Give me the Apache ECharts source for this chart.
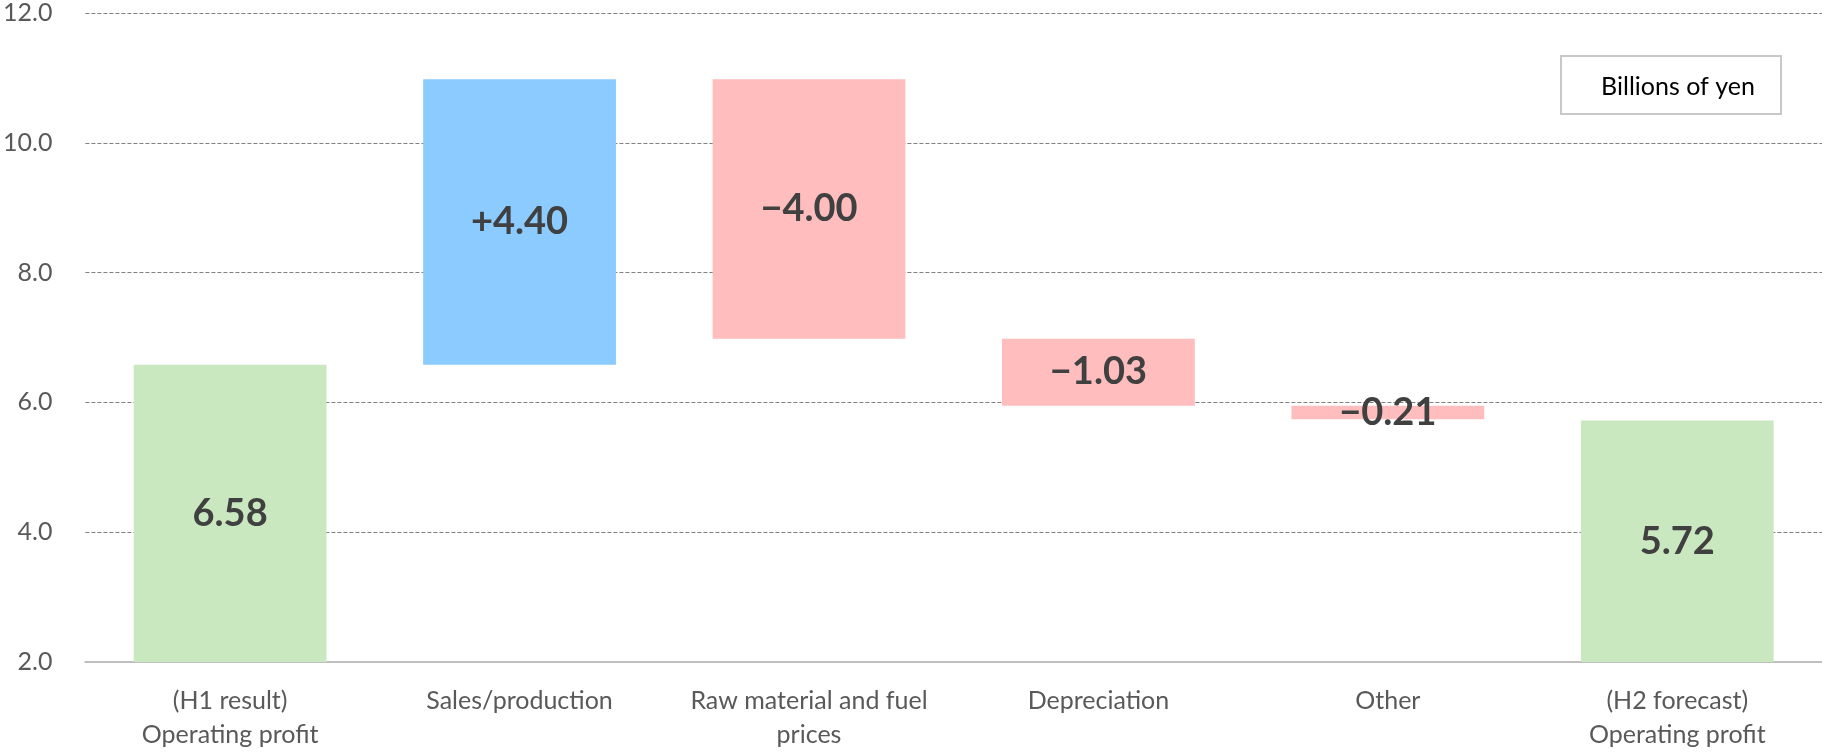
<!DOCTYPE html>
<html>
<head>
<meta charset="utf-8">
<script src="https://cdn.jsdelivr.net/npm/echarts@6/dist/echarts.min.js"></script>
<style>
  html, body { margin: 0; padding: 0; background: #ffffff; }
  #chart { width: 1822px; height: 752px; }
</style>
</head>
<body>
<div id="chart"></div>
<script>
// Operating profit bridge: H1 result -> H2 forecast (billions of yen)
const categories = [
  '(H1 result)\nOperating profit',
  'Sales/production',
  'Raw material and fuel\nprices',
  'Depreciation',
  'Other',
  '(H2 forecast)\nOperating profit'
];
const startValue = 6.58;                       // H1 operating profit
const changes = [4.40, -4.00, -1.03, -0.21];   // factor contributions
const endValue = 5.72;                         // H2 operating profit
const yTicks = { min: 2, max: 12, interval: 2 };

const GREEN = '#CAE8C0';
const BLUE = '#8CCBFF';
const PINK = '#FFBDBD';

// Build invisible base + visible segment for a floating-bar waterfall
const baseData = [0];
const barData = [{ value: startValue, itemStyle: { color: GREEN }, labelText: startValue.toFixed(2) }];
let running = startValue;
changes.forEach(function (d) {
  const next = running + d;
  baseData.push(Math.min(running, next));
  barData.push({
    value: Math.abs(d),
    itemStyle: { color: d >= 0 ? BLUE : PINK },
    labelText: (d >= 0 ? '+' : '\u2212') + Math.abs(d).toFixed(2)
  });
  running = next;
});
baseData.push(0);
barData.push({ value: endValue, itemStyle: { color: GREEN }, labelText: endValue.toFixed(2) });

const chart = echarts.init(document.getElementById('chart'), null, { renderer: 'canvas' });

chart.setOption({
  animation: false,
  backgroundColor: '#ffffff',
  grid: { left: 83, right: 0, top: 13, bottom: 87, containLabel: false },
  xAxis: {
    type: 'category',
    data: categories,
    axisLine: { lineStyle: { color: '#bfbfbf', width: 2 } },
    axisTick: { show: false },
    axisLabel: {
      interval: 0,
      margin: 22,
      color: '#595959',
      fontFamily: 'Lato',
      fontSize: 25,
      lineHeight: 34
    }
  },
  yAxis: {
    type: 'value',
    min: yTicks.min,
    max: yTicks.max,
    interval: yTicks.interval,
    axisLine: { show: false },
    axisTick: { show: false },
    axisLabel: {
      margin: 33,
      color: '#595959',
      fontFamily: 'Lato',
      fontSize: 25,
      formatter: function (v) { return v.toFixed(1); }
    },
    splitLine: { lineStyle: { color: '#808080', width: 1, type: [4, 2] } }
  },
  series: [
    {
      type: 'bar',
      stack: 'bridge',
      data: baseData,
      itemStyle: { color: 'transparent' },
      barCategoryGap: '33.4%',
      silent: true
    },
    {
      type: 'bar',
      stack: 'bridge',
      data: barData,
      barCategoryGap: '33.4%',
      label: {
        show: true,
        position: 'inside',
        color: '#404040',
        fontFamily: 'Lato',
        fontWeight: 'bold',
        fontSize: 38,
        formatter: function (p) { return p.data.labelText; }
      }
    }
  ],
  graphic: [
    {
      type: 'group',
      left: 1560,
      top: 55,
      children: [
        {
          type: 'rect',
          shape: { x: 0, y: 0, width: 220, height: 58 },
          style: { fill: '#ffffff', stroke: '#c8c8c8', lineWidth: 2 }
        },
        {
          type: 'text',
          x: 117,
          y: 31,
          style: {
            text: 'Billions of yen',
            fill: '#000000',
            font: '25px Lato',
            align: 'center',
            verticalAlign: 'middle'
          }
        }
      ]
    }
  ]
});
</script>
</body>
</html>
